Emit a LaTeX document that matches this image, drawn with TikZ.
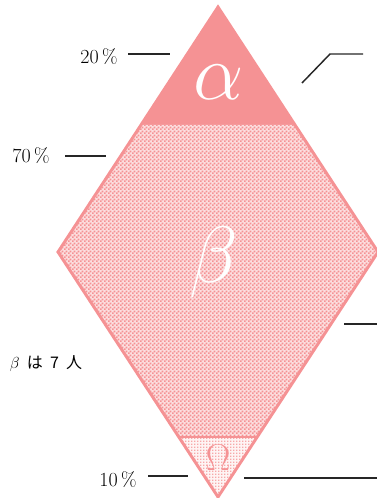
\RequirePackage{fix-cm}
\documentclass[tikz,border=0pt]{standalone}
\usepackage{fontspec}
\newfontfamily\jpfont{Noto Sans CJK JP}
\usetikzlibrary{calc,patterns.meta}
\definecolor{rosa}{RGB}{245,146,148}
\tikzdeclarepattern{name=checks, type=uncolored,
  bounding box={(0,0) and (3pt,3pt)}, tile size={(3pt,3pt)},
  code={\fill (0,0) rectangle (1.6pt,1.6pt); \fill (1.5pt,1.5pt) rectangle (3.1pt,3.1pt);}}
\tikzdeclarepattern{name=finedots, type=uncolored,
  bounding box={(0,0) and (2.2pt,2.2pt)}, tile size={(2.2pt,2.2pt)},
  code={\fill (0,0) rectangle (1.1pt,1.1pt);}}
\tikzset{
  outline/.style={draw=rosa, line width=2.2pt, line join=miter},
  leader/.style={draw=black!85, line width=1.1pt},
  lbl/.style={inner sep=0pt, font=\fontsize{15}{15}\selectfont, text=black},
  jlbl/.style={inner sep=0pt, font=\jpfont\fontsize{12}{12}\selectfont, text=black},
  glyph/.style={inner sep=0pt, text=white, font=\fontsize{60}{60}\selectfont}
}
\begin{document}
\begin{tikzpicture}[x=0.75pt, y=-0.75pt]
\useasboundingbox (0,0) rectangle (377,498);
% diamond corners and band limits
\coordinate (T) at (218,7);
\coordinate (L) at (58,252);
\coordinate (R) at (378,252);
\coordinate (B) at (218,497);
\coordinate (aL) at ($(T)!0.4816!(L)$);
\coordinate (aR) at ($(T)!0.4816!(R)$);
\coordinate (oL) at ($(B)!0.245!(L)$);
\coordinate (oR) at ($(B)!0.245!(R)$);

\fill[rosa] (T) -- (aR) -- (aL) -- cycle;
\fill[rosa!30] (aL) -- (aR) -- (R) -- (oR) -- (oL) -- (L) -- cycle;
\fill[pattern=checks, pattern color=rosa] (aL) -- (aR) -- (R) -- (oR) -- (oL) -- (L) -- cycle;
\fill[rosa!10] (oL) -- (oR) -- (B) -- cycle;
\fill[pattern=finedots, pattern color=rosa!80] (oL) -- (oR) -- (B) -- cycle;
\draw[outline] (T) -- (R) -- (B) -- (L) -- cycle;
\draw[outline] (oL) -- (oR);

\node[glyph] (alpha) at (219,82) {$\alpha$};
\node[glyph] (beta) at (214,262) {$\beta$};
\node[glyph, text=rosa, font=\fontsize{28}{28}\selectfont] (omega) at (218,458) {$\Omega$};

\node[lbl] (p20) at (99,57) {20\,\%};
\node[lbl] (p70) at (31,156) {70\,\%};
\node[lbl] (p10) at (118,480) {10\,\%};
\node[jlbl] (b7) at (46,364) {$\beta$\ \ は\ \ 7\ \ 人};

% leader lines
\coordinate (l20a) at (128,54);  \coordinate (l20b) at (170,54);
\coordinate (l70a) at (65,156);  \coordinate (l70b) at (106,156);
\coordinate (l10a) at (148,476); \coordinate (l10b) at (188,476);
\coordinate (ra) at (302,83); \coordinate (rb) at (330,54); \coordinate (rc) at (363,54);
\coordinate (rm1) at (344,324); \coordinate (rm2) at (377,324);
\coordinate (rl1) at (244,478); \coordinate (rl2) at (377,478);
\draw[leader] (l20a) -- (l20b);
\draw[leader] (l70a) -- (l70b);
\draw[leader] (l10a) -- (l10b);
\draw[leader] (ra) -- (rb) -- (rc);
\draw[leader] (rm1) -- (rm2);
\draw[leader] (rl1) -- (rl2);
\end{tikzpicture}
\end{document}
